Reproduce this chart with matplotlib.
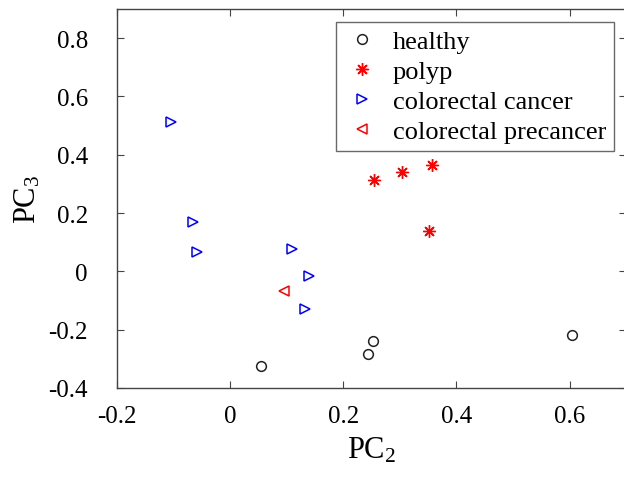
import numpy as np
import matplotlib
matplotlib.use('Agg')
import matplotlib.pyplot as plt

plt.rcParams['font.family'] = ['Liberation Serif', 'DejaVu Serif']
plt.rcParams['axes.unicode_minus'] = False
plt.rcParams['mathtext.fontset'] = 'custom'
plt.rcParams['mathtext.rm'] = 'Liberation Serif'
plt.rcParams['mathtext.it'] = 'Liberation Serif:italic'

# PC2 / PC3 scores per group
healthy_x = [0.055, 0.244, 0.253, 0.605]
healthy_y = [-0.323, -0.285, -0.238, -0.218]

polyp_x = [0.255, 0.303, 0.357, 0.351]
polyp_y = [0.315, 0.342, 0.365, 0.140]

cancer_x = [-0.104, -0.065, -0.058, 0.109, 0.140, 0.132]
cancer_y = [0.513, 0.169, 0.068, 0.078, -0.016, -0.128]

precancer_x = [0.096]
precancer_y = [-0.067]

xticks = [-0.2, 0, 0.2, 0.4, 0.6]
yticks = [-0.4, -0.2, 0, 0.2, 0.4, 0.6, 0.8]

fig = plt.figure(figsize=(6.24, 4.81), dpi=100)
ax = fig.add_axes([0.1875, 0.1913, 0.816, 0.788])

ax.plot(healthy_x, healthy_y, 'o', ls='none', mfc='none', mec='#222222', ms=7, mew=1.1, label='healthy')
ax.plot(polyp_x, polyp_y, marker=(8, 2, 0), ls='none', color='red', ms=9, mew=1.0, label='polyp')
ax.plot(cancer_x, cancer_y, '>', ls='none', mfc='none', mec='blue', ms=7, mew=1.1, label='colorectal cancer')
ax.plot(precancer_x, precancer_y, '<', ls='none', mfc='none', mec='red', ms=7, mew=1.1, label='colorectal precancer')

ax.set_xlim(-0.2, 0.7)
ax.set_ylim(-0.4, 0.9)
ax.set_xticks(xticks)
ax.set_yticks(yticks)
ax.set_xticklabels(['-0.2', '0', '0.2', '0.4', '0.6'])
ax.set_yticklabels(['-0.4', '-0.2', '0', '0.2', '0.4', '0.6', '0.8'])
ax.tick_params(direction='in', top=True, right=True, length=5, width=0.8,
               color='#444444', labelsize=18)
ax.tick_params(axis='x', pad=12)
ax.tick_params(axis='y', pad=21)
for s in ax.spines.values():
    s.set_color('#444444')
    s.set_linewidth(1.0)

ax.set_xlabel('PC$_\\mathrm{2}$', fontsize=22, labelpad=6)
ax.set_ylabel('PC$_\\mathrm{3}$', fontsize=22, labelpad=4)

leg = ax.legend(loc='upper left', bbox_to_anchor=(0.43, 0.966), fontsize=19,
                frameon=True, fancybox=False, edgecolor='#444444',
                handlelength=1.4, handletextpad=0.45, borderpad=0.3,
                labelspacing=0.25, borderaxespad=0.0)
leg.get_frame().set_linewidth(1.0)

fig.savefig('out.png', dpi=100)
